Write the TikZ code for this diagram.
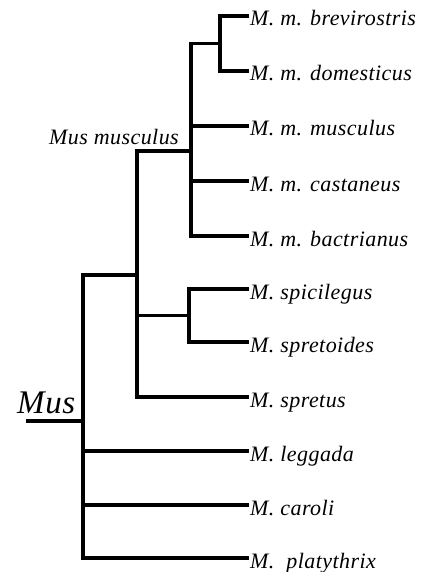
\documentclass[tikz,border=0pt]{standalone}
\usepackage{fontspec}
\setmainfont{Liberation Serif}[LetterSpace=2,ItalicFont={Liberation Serif Italic}]
\begin{document}
\begin{tikzpicture}[x=1pt,y=-1pt,
  branch/.style={line width=3.2pt,line cap=rect,line join=miter},
  leaf/.style={anchor=base west,inner sep=0pt,font=\fontsize{22}{26}\selectfont\itshape},
  clade/.style={anchor=base east,inner sep=0pt,font=\fontsize{22}{26}\selectfont\itshape},
  genus/.style={anchor=base west,inner sep=0pt,font=\fontsize{33}{38}\selectfont\itshape}]
\useasboundingbox (0,0) rectangle (424,572);
% leaf tips
\coordinate (t1) at (247,16);
\coordinate (t2) at (247,71);
\coordinate (t3) at (247,126);
\coordinate (t4) at (247,181);
\coordinate (t5) at (247,236);
\coordinate (t6) at (247,289);
\coordinate (t7) at (247,342);
\coordinate (t8) at (247,397);
\coordinate (t9) at (247,451);
\coordinate (t10) at (247,505);
\coordinate (t11) at (247,558);
% internal nodes
\coordinate (n1) at (220,43.5);
\coordinate (mm) at (191,151);
\coordinate (ss) at (189,315.5);
\coordinate (n3) at (137,275);
\coordinate (mus) at (83,421);
\coordinate (root) at (28,421);
% labels
\node[leaf] (L1) at (250,26) {M. m. brevirostris};
\node[leaf] (L2) at (250,81) {M. m. domesticus};
\node[leaf] (L3) at (250,136) {M. m. musculus};
\node[leaf] (L4) at (250,191) {M. m. castaneus};
\node[leaf] (L5) at (250,246) {M. m. bactrianus};
\node[leaf] (L6) at (250,299) {M. spicilegus};
\node[leaf] (L7) at (250,352) {M. spretoides};
\node[leaf] (L8) at (250,407) {M. spretus};
\node[leaf] (L9) at (250,461) {M. leggada};
\node[leaf] (L10) at (250,515) {M. caroli};
\node[leaf] (L11) at (250,568) {M.\ \ platythrix};
\node[clade] (Lmm) at (179,145) {Mus musculus};
\node[genus] (Lmus) at (17,413) {Mus};
% branches
\draw[branch] (t1) -| (n1) |- (t2);
\draw[branch] (n1) -- (n1 -| mm);
\draw[branch] (mm |- n1) -- (mm |- t5) -- (t5);
\draw[branch] (mm |- t3) -- (t3);
\draw[branch] (mm |- t4) -- (t4);
\draw[branch] (t6) -| (ss) |- (t7);
\draw[branch] (ss) -- (ss -| n3);
\draw[branch] (mm) -- (mm -| n3) -- (n3 |- t8) -- (t8);
\draw[branch] (n3) -- (n3 -| mus) -- (mus |- t11) -- (t11);
\draw[branch] (mus |- t9) -- (t9);
\draw[branch] (mus |- t10) -- (t10);
\draw[branch] (root) -- (mus);
\end{tikzpicture}
\end{document}
